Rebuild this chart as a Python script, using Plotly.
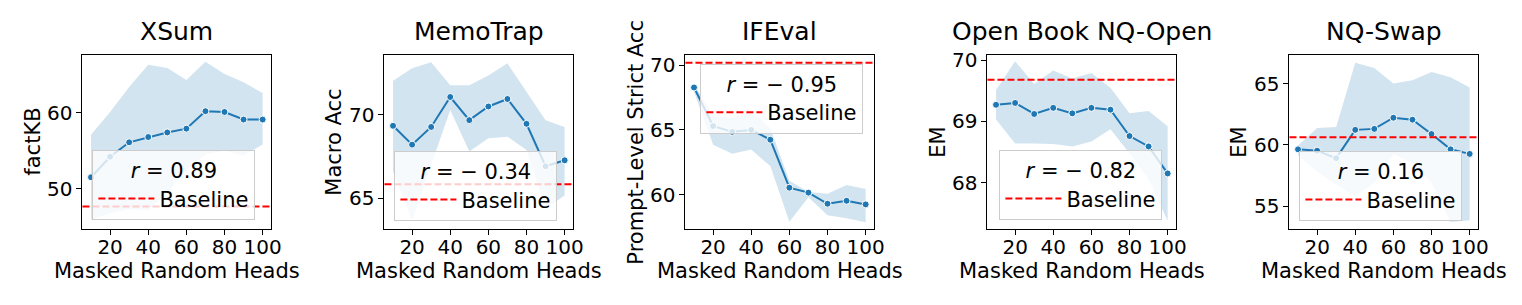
import plotly.graph_objects as go

W, H = 1522, 305
FONT = "DejaVu Sans"
BLUE = "#1f77b4"
BAND = "rgba(31,119,180,0.2)"

heads = [10, 20, 30, 40, 50, 60, 70, 80, 90, 100]
x_ticks = [20, 40, 60, 80, 100]

titles = ["XSum", "MemoTrap", "IFEval", "Open Book NQ-Open", "NQ-Swap"]
ylabels = ["factKB", "Macro Acc", "Prompt-Level Strict Acc", "EM", "EM"]
r_labels = ["<i>r</i> = 0.89", "<i>r</i> = − 0.34", "<i>r</i> = − 0.95",
            "<i>r</i> = − 0.82", "<i>r</i> = 0.16"]

xsum_mean = [51.5, 54.2, 56.1, 56.8, 57.4, 57.9, 60.2, 60.1, 59.1, 59.1]
xsum_upper = [57.1, 60.1, 63.4, 66.3, 65.9, 64.3, 66.7, 65.1, 64.0, 62.6]
xsum_lower = [45.9, 46.8, 47.3, 47.2, 49.5, 52.5, 54.5, 55.0, 54.4, 55.8]
xsum_base = 47.64

memo_mean = [69.35, 68.22, 69.28, 71.08, 69.69, 70.51, 70.96, 69.47, 66.92, 67.28]
memo_upper = [72.06, 72.8, 73.16, 71.78, 71.78, 72.37, 73.1, 71.35, 69.68, 69.28]
memo_lower = [66.6, 63.7, 67.0, 70.3, 67.8, 68.6, 68.7, 67.9, 64.37, 65.16]
memo_base = 65.84

ifeval_mean = [68.28, 65.3, 64.85, 65.0, 64.24, 60.53, 60.15, 59.29, 59.52, 59.24]
ifeval_upper = [68.55, 66.1, 65.9, 66.5, 65.13, 61.07, 60.2, 60.06, 60.74, 60.44]
ifeval_lower = [67.95, 63.86, 63.15, 63.48, 62.2, 57.9, 59.8, 58.4, 58.16, 57.85]
ifeval_base = 70.2

nqo_mean = [69.27, 69.30, 69.12, 69.22, 69.13, 69.22, 69.19, 68.76, 68.59, 68.15]
nqo_upper = [69.51, 69.98, 69.61, 69.83, 69.70, 69.79, 69.55, 69.13, 69.17, 68.92]
nqo_lower = [69.03, 68.64, 68.64, 68.63, 68.59, 68.67, 68.87, 68.48, 68.05, 67.38]
nqo_base = 69.68

nqs_mean = [59.63, 59.52, 58.91, 61.22, 61.30, 62.21, 62.05, 60.88, 59.63, 59.26]
nqs_upper = [59.95, 61.38, 61.46, 66.70, 66.28, 65.00, 65.27, 65.94, 65.52, 64.68]
nqs_lower = [59.15, 57.82, 56.75, 55.80, 56.90, 59.28, 58.48, 56.90, 53.70, 53.85]
nqs_base = 60.61

means = [xsum_mean, memo_mean, ifeval_mean, nqo_mean, nqs_mean]
uppers = [xsum_upper, memo_upper, ifeval_upper, nqo_upper, nqs_upper]
lowers = [xsum_lower, memo_lower, ifeval_lower, nqo_lower, nqs_lower]
baselines = [xsum_base, memo_base, ifeval_base, nqo_base, nqs_base]

y_ranges = [[44.66, 67.66], [63.14, 73.63], [57.32, 70.83], [67.24, 70.09], [53.11, 67.37]]
y_ticks = [[50, 60], [65, 70], [60, 65, 70], [68, 69, 70], [55, 60, 65]]
x_range = [5.5, 104.5]

# layout geometry (pixels)
ax_left = [83, 387, 690, 994, 1298]
ax_w = 190
ax_top, ax_bot = 49.5, 227.7
ylabel_x = [33, 336, 640, 944, 1247]
legend_pos = [(93, 147), (397, 148), (705, 59), (1006, 147), (1308, 148)]


def px(p):
    return p / W


def py(p):
    return 1 - p / H


fig = go.Figure()
annotations = []
layout = dict(
    width=W, height=H, autosize=False,
    margin=dict(l=0, r=0, t=0, b=0),
    paper_bgcolor="white", plot_bgcolor="white",
    font=dict(family=FONT, size=20, color="black"),
)

for i in range(5):
    n = "" if i == 0 else str(i + 1)
    xa, ya = "x" + n, "y" + n
    leg = "legend" + n
    fig.add_trace(go.Scatter(x=heads, y=uppers[i], mode="lines", line=dict(width=0),
                             xaxis=xa, yaxis=ya, showlegend=False, hoverinfo="skip"))
    fig.add_trace(go.Scatter(x=heads, y=lowers[i], mode="lines", line=dict(width=0),
                             fill="tonexty", fillcolor=BAND,
                             xaxis=xa, yaxis=ya, showlegend=False, hoverinfo="skip"))
    fig.add_trace(go.Scatter(x=heads, y=means[i], mode="lines+markers",
                             line=dict(color=BLUE, width=2),
                             marker=dict(size=7, color=BLUE, line=dict(color="white", width=1)),
                             xaxis=xa, yaxis=ya, showlegend=False))
    fig.add_shape(type="line", xref=xa + " domain", yref=ya, x0=0, x1=1,
                  y0=baselines[i], y1=baselines[i],
                  line=dict(color="red", width=2, dash="7px,3px"),
                  showlegend=True, name="Baseline", legend=leg)

    x0, x1 = px(ax_left[i]), px(ax_left[i] + ax_w)
    layout["xaxis" + n] = dict(
        domain=[x0, x1], range=x_range, anchor=ya, tickvals=x_ticks,
        ticks="outside", ticklen=5, tickwidth=1, tickcolor="black",
        ticklabelstandoff=-5,
        showline=True, linecolor="black", linewidth=1, mirror=True,
        showgrid=False, zeroline=False, tickfont=dict(size=20, family=FONT))
    layout["yaxis" + n] = dict(
        domain=[py(ax_bot), py(ax_top)], range=y_ranges[i], anchor=xa,
        tickvals=y_ticks[i],
        ticks="outside", ticklen=5, tickwidth=1, tickcolor="black",
        showline=True, linecolor="black", linewidth=1, mirror=True,
        showgrid=False, zeroline=False, tickfont=dict(size=20, family=FONT))
    lx, ly = legend_pos[i]
    layout[leg] = dict(
        x=px(lx), y=py(ly), xanchor="left", yanchor="top",
        bgcolor="rgba(255,255,255,0.8)", bordercolor="#cccccc", borderwidth=1,
        font=dict(size=21, family=FONT),
        title=dict(text=r_labels[i], side="top center", font=dict(size=21, family=FONT)),
        entrywidth=94, entrywidthmode="pixels", itemwidth=56,
    )
    cx = (ax_left[i] + ax_w / 2)
    annotations.append(dict(text=titles[i], x=px(cx), y=py(ax_top), xref="paper", yref="paper",
                            xanchor="center", yanchor="bottom", yshift=7, showarrow=False,
                            font=dict(size=25, family=FONT)))
    annotations.append(dict(text="Masked Random Heads", x=px(cx), y=py(270), xref="paper",
                            yref="paper", xanchor="center", yanchor="middle", showarrow=False,
                            font=dict(size=21, family=FONT)))
    annotations.append(dict(text=ylabels[i], x=px(ylabel_x[i]), y=py((ax_top + ax_bot) / 2),
                            xref="paper", yref="paper", xanchor="center", yanchor="middle",
                            textangle=-90, showarrow=False, font=dict(size=21, family=FONT)))

layout["annotations"] = annotations
fig.update_layout(**layout)
fig.write_html("out.html", config={"displayModeBar": False},
               post_script="document.body.style.margin='0';document.body.style.overflow='hidden';")
